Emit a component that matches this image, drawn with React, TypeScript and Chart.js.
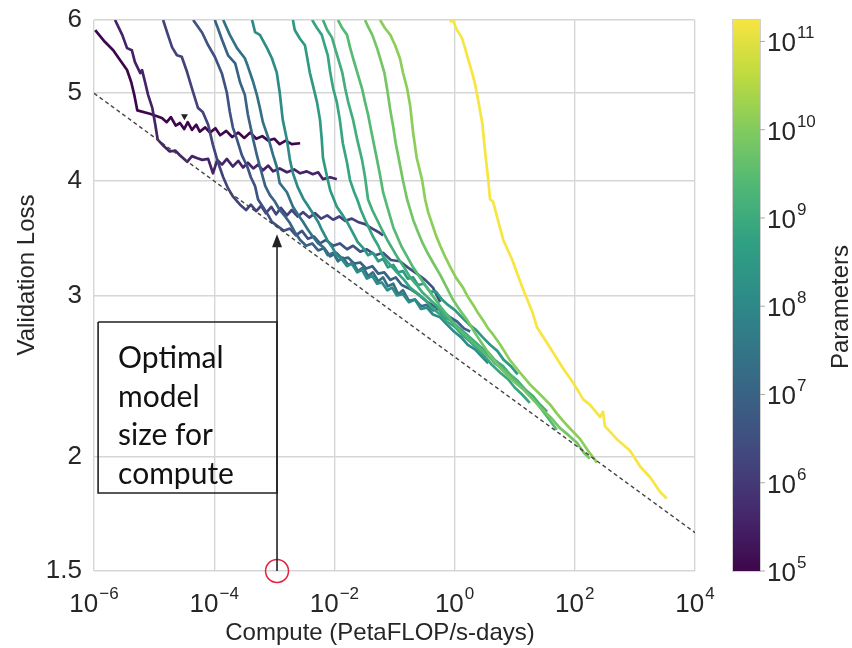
import React, { useEffect, useRef } from "react";
import { Chart, registerables } from "chart.js";

Chart.register(...registerables);

// ---------- axes ----------
const xTickValues = [1e-6, 1e-4, 1e-2, 1, 1e2, 1e4];
const xTickExponents = ["\u22126", "\u22124", "\u22122", "0", "2", "4"];
const yTickValues = [1.5, 2, 3, 4, 5, 6];
const colorbarTickValues = [1e5, 1e6, 1e7, 1e8, 1e9, 1e10, 1e11];
const colorbarTickExponents = ["5", "6", "7", "8", "9", "10", "11"];
const paramMin = 1e5;
const paramMax = 1.75e11;

// ---------- model sizes (parameters) for each curve A..N ----------
const modelParams = [1e5, 3.5e5, 1.6e6, 4e6, 1e7, 2.5e7, 1.25e8, 3.5e8, 7.6e8, 1.3e9, 2.7e9, 6.7e9, 1.3e10, 1.75e11];

// ---------- learning curves: log10(compute PF-days) and validation loss ----------
const logC_A = [-5.98, -5.82, -5.68, -5.57, -5.45, -5.38, -5.33, -5.28, -5.07, -4.87, -4.79, -4.72, -4.64, -4.57, -4.5, -4.44, -4.37, -4.3, -4.24, -4.15, -4.07, -3.98, -3.9, -3.8, -3.7, -3.6, -3.5, -3.4, -3.3, -3.2, -3.1, -3.0, -2.91, -2.81, -2.71, -2.57];
const loss_A = [5.85, 5.68, 5.56, 5.43, 5.29, 5.13, 4.97, 4.78, 4.74, 4.69, 4.64, 4.7, 4.6, 4.63, 4.56, 4.64, 4.55, 4.61, 4.53, 4.58, 4.52, 4.57, 4.49, 4.54, 4.47, 4.52, 4.46, 4.52, 4.45, 4.48, 4.43, 4.45, 4.39, 4.43, 4.39, 4.4];

const logC_B = [-5.65, -5.53, -5.45, -5.37, -5.32, -5.23, -5.2, -5.15, -5.1, -5.03, -4.98, -4.94, -4.84, -4.74, -4.65, -4.57, -4.45, -4.37, -4.29, -4.2, -4.1, -4.02, -3.95, -3.87, -3.79, -3.69, -3.6, -3.52, -3.44, -3.35, -3.27, -3.19, -3.1, -3.02, -2.91, -2.79, -2.67, -2.57, -2.46, -2.36, -2.27, -2.19, -2.07, -1.96];
const loss_B = [6.0, 5.78, 5.59, 5.56, 5.4, 5.25, 5.29, 5.13, 4.97, 4.81, 4.61, 4.44, 4.37, 4.31, 4.32, 4.27, 4.2, 4.26, 4.24, 4.22, 4.23, 4.08, 4.22, 4.17, 4.23, 4.15, 4.21, 4.14, 4.19, 4.13, 4.17, 4.11, 4.16, 4.1, 4.13, 4.09, 4.12, 4.08, 4.1, 4.07, 4.09, 4.02, 4.04, 4.02];

const logC_C = [-4.85, -4.77, -4.7, -4.62, -4.54, -4.45, -4.35, -4.27, -4.19, -4.1, -4.02, -3.94, -3.85, -3.77, -3.69, -3.57, -3.47, -3.39, -3.3, -3.22, -3.14, -3.05, -2.97, -2.89, -2.79, -2.71, -2.61, -2.52, -2.42, -2.32, -2.22, -2.12, -2.02, -1.92, -1.82, -1.71, -1.61, -1.49, -1.37, -1.27, -1.19];
const loss_C = [6.0, 5.78, 5.6, 5.49, 5.47, 5.26, 5.0, 4.81, 4.76, 4.61, 4.38, 4.2, 4.04, 3.93, 3.85, 3.77, 3.72, 3.77, 3.71, 3.76, 3.69, 3.75, 3.68, 3.74, 3.67, 3.72, 3.66, 3.7, 3.65, 3.69, 3.64, 3.67, 3.63, 3.66, 3.62, 3.64, 3.61, 3.59, 3.55, 3.52, 3.49];

const logC_D = [-4.35, -4.2, -4.1, -3.99, -3.87, -3.79, -3.74, -3.69, -3.62, -3.54, -3.45, -3.39, -3.32, -3.27, -3.19, -3.1, -3.04, -2.94, -2.84, -2.74, -2.64, -2.54, -2.44, -2.34, -2.24, -2.14, -2.02, -1.91, -1.79, -1.69, -1.57, -1.46, -1.32, -1.19, -1.06, -0.91, -0.78, -0.63, -0.49, -0.36, -0.24];
const loss_D = [6.0, 5.81, 5.63, 5.47, 5.24, 5.0, 4.76, 4.58, 4.44, 4.27, 4.15, 4.04, 3.95, 3.82, 3.75, 3.67, 3.61, 3.57, 3.53, 3.55, 3.49, 3.53, 3.46, 3.48, 3.42, 3.45, 3.4, 3.42, 3.37, 3.4, 3.35, 3.37, 3.32, 3.34, 3.28, 3.27, 3.22, 3.17, 3.12, 3.06, 2.95];

const logC_E = [-3.99, -3.94, -3.87, -3.77, -3.65, -3.57, -3.49, -3.44, -3.35, -3.29, -3.24, -3.15, -3.07, -2.99, -2.91, -2.82, -2.74, -2.66, -2.57, -2.47, -2.37, -2.27, -2.17, -2.07, -1.97, -1.87, -1.77, -1.67, -1.57, -1.47, -1.37, -1.27, -1.17, -1.07, -0.98, -0.88, -0.74, -0.61, -0.48, -0.34, -0.21, -0.08, 0.04, 0.16, 0.26];
const loss_E = [6.0, 5.88, 5.71, 5.49, 5.38, 5.13, 4.97, 4.73, 4.44, 4.27, 4.15, 3.95, 3.86, 3.8, 3.72, 3.66, 3.6, 3.52, 3.45, 3.4, 3.42, 3.36, 3.38, 3.31, 3.34, 3.29, 3.3, 3.25, 3.26, 3.21, 3.23, 3.17, 3.18, 3.12, 3.14, 3.08, 3.05, 3.01, 2.96, 2.92, 2.89, 2.84, 2.81, 2.76, 2.74];

const logC_F = [-3.85, -3.74, -3.62, -3.49, -3.44, -3.35, -3.29, -3.24, -3.19, -3.1, -3.02, -2.96, -2.91, -2.79, -2.69, -2.61, -2.52, -2.44, -2.36, -2.27, -2.19, -2.11, -2.02, -1.94, -1.86, -1.77, -1.69, -1.61, -1.52, -1.44, -1.36, -1.27, -1.19, -1.11, -1.02, -0.94, -0.86, -0.76, -0.66, -0.56, -0.46, -0.36, -0.26, -0.16, -0.06, 0.06, 0.17, 0.29, 0.42, 0.56, 0.67, 0.81];
const loss_F = [6.0, 5.78, 5.59, 5.45, 5.34, 5.13, 4.97, 4.81, 4.64, 4.46, 4.27, 4.15, 3.98, 3.89, 3.75, 3.68, 3.61, 3.54, 3.48, 3.42, 3.39, 3.32, 3.34, 3.27, 3.3, 3.24, 3.26, 3.19, 3.22, 3.15, 3.18, 3.11, 3.14, 3.07, 3.09, 3.01, 3.04, 2.96, 2.97, 2.92, 2.93, 2.89, 2.9, 2.84, 2.82, 2.77, 2.73, 2.68, 2.63, 2.58, 2.53, 2.49];

const logC_G = [-3.37, -3.32, -3.24, -3.12, -3.04, -2.96, -2.91, -2.86, -2.79, -2.74, -2.69, -2.61, -2.52, -2.44, -2.36, -2.27, -2.21, -2.12, -2.04, -1.96, -1.87, -1.79, -1.71, -1.62, -1.54, -1.46, -1.37, -1.29, -1.21, -1.12, -1.04, -0.96, -0.86, -0.76, -0.66, -0.56, -0.46, -0.36, -0.24, -0.13, -0.01, 0.11, 0.22, 0.34, 0.46, 0.56];
const loss_G = [6.0, 5.82, 5.78, 5.59, 5.45, 5.26, 5.0, 4.67, 4.44, 4.22, 4.08, 3.94, 3.83, 3.76, 3.69, 3.61, 3.54, 3.45, 3.39, 3.32, 3.28, 3.23, 3.25, 3.18, 3.2, 3.13, 3.15, 3.09, 3.1, 3.04, 3.06, 3.0, 3.01, 2.95, 2.97, 2.9, 2.91, 2.86, 2.84, 2.79, 2.74, 2.7, 2.65, 2.62, 2.57, 2.53];

const logC_H = [-2.69, -2.66, -2.57, -2.49, -2.46, -2.41, -2.36, -2.29, -2.24, -2.21, -2.19, -2.12, -2.07, -1.96, -1.86, -1.79, -1.69, -1.61, -1.52, -1.44, -1.36, -1.27, -1.19, -1.11, -1.02, -0.94, -0.86, -0.78, -0.69, -0.61, -0.51, -0.41, -0.31, -0.21, -0.11, 0.01, 0.12, 0.24, 0.36, 0.47, 0.59, 0.71, 0.82, 0.94, 1.05];
const loss_H = [6.0, 5.85, 5.72, 5.63, 5.49, 5.26, 5.1, 4.88, 4.67, 4.44, 4.24, 4.04, 3.91, 3.75, 3.67, 3.61, 3.51, 3.43, 3.38, 3.32, 3.34, 3.27, 3.29, 3.22, 3.24, 3.18, 3.19, 3.13, 3.14, 3.08, 3.09, 3.03, 3.03, 2.97, 2.93, 2.89, 2.84, 2.79, 2.75, 2.7, 2.65, 2.61, 2.55, 2.51, 2.46];

const logC_I = [-2.37, -2.29, -2.21, -2.16, -2.11, -2.07, -2.02, -1.96, -1.91, -1.86, -1.79, -1.74, -1.67, -1.62, -1.56, -1.49, -1.42, -1.36, -1.27, -1.19, -1.07, -0.96, -0.84, -0.74, -0.63, -0.49, -0.38, -0.24, -0.13, 0.01, 0.12, 0.26, 0.39, 0.51, 0.62, 0.76, 0.89, 1.0, 1.12, 1.25];
const loss_I = [6.0, 5.88, 5.78, 5.63, 5.49, 5.26, 5.05, 4.88, 4.67, 4.4, 4.19, 4.01, 3.89, 3.82, 3.72, 3.63, 3.55, 3.48, 3.4, 3.31, 3.24, 3.18, 3.12, 3.06, 3.02, 2.97, 2.91, 2.86, 2.81, 2.77, 2.72, 2.67, 2.62, 2.57, 2.52, 2.47, 2.43, 2.38, 2.34, 2.29];

const logC_J = [-2.19, -2.12, -2.04, -1.99, -1.94, -1.87, -1.82, -1.77, -1.69, -1.62, -1.54, -1.49, -1.44, -1.37, -1.29, -1.21, -1.12, -1.04, -0.96, -0.84, -0.74, -0.63, -0.53, -0.41, -0.29, -0.18, -0.08, 0.06, 0.17, 0.31, 0.42, 0.56, 0.67, 0.81, 0.92, 1.05, 1.17, 1.3, 1.42, 1.54];
const loss_J = [6.0, 5.85, 5.74, 5.59, 5.45, 5.26, 5.05, 4.88, 4.67, 4.44, 4.22, 4.04, 3.82, 3.72, 3.63, 3.54, 3.45, 3.38, 3.31, 3.22, 3.14, 3.08, 3.02, 2.97, 2.92, 2.86, 2.82, 2.77, 2.73, 2.68, 2.64, 2.6, 2.55, 2.51, 2.46, 2.42, 2.37, 2.33, 2.28, 2.24];

const logC_K = [-1.94, -1.87, -1.79, -1.74, -1.69, -1.62, -1.54, -1.49, -1.44, -1.39, -1.34, -1.29, -1.24, -1.19, -1.12, -1.02, -0.88, -0.69, -0.46, -0.24, 0.04, 0.26, 0.49, 0.71, 0.92, 1.12, 1.32, 1.52, 1.7];
const loss_K = [6.0, 5.88, 5.78, 5.6, 5.45, 5.26, 5.05, 4.88, 4.73, 4.55, 4.38, 4.22, 4.06, 3.89, 3.75, 3.56, 3.39, 3.22, 3.06, 2.92, 2.77, 2.68, 2.6, 2.52, 2.46, 2.38, 2.31, 2.22, 2.14];

const logC_L = [-1.49, -1.44, -1.37, -1.29, -1.24, -1.17, -1.12, -1.07, -1.02, -0.98, -0.91, -0.86, -0.79, -0.69, -0.61, -0.53, -0.44, -0.36, -0.24, -0.13, -0.03, 0.09, 0.21, 0.34, 0.47, 0.61, 0.76, 0.94, 1.14, 1.3, 1.47, 1.62, 1.75, 1.9, 2.04, 2.15, 2.25];
const loss_L = [6.0, 5.9, 5.78, 5.59, 5.45, 5.26, 5.03, 4.78, 4.58, 4.4, 4.17, 4.01, 3.82, 3.63, 3.52, 3.42, 3.33, 3.26, 3.16, 3.06, 2.97, 2.89, 2.82, 2.73, 2.65, 2.57, 2.5, 2.43, 2.37, 2.31, 2.25, 2.2, 2.15, 2.11, 2.07, 2.02, 1.99];

const logC_M = [-1.24, -1.16, -1.07, -0.99, -0.91, -0.86, -0.79, -0.74, -0.69, -0.63, -0.54, -0.49, -0.44, -0.38, -0.31, -0.24, -0.16, -0.08, 0.02, 0.14, 0.22, 0.31, 0.39, 0.47, 0.56, 0.64, 0.76, 0.92, 1.09, 1.25, 1.42, 1.59, 1.7, 1.8, 1.94, 2.09, 2.22, 2.37];
const loss_M = [6.0, 5.88, 5.78, 5.63, 5.45, 5.26, 5.05, 4.84, 4.52, 4.24, 4.01, 3.82, 3.7, 3.6, 3.49, 3.4, 3.31, 3.23, 3.14, 3.06, 2.99, 2.93, 2.87, 2.82, 2.76, 2.72, 2.65, 2.55, 2.47, 2.4, 2.34, 2.28, 2.23, 2.19, 2.14, 2.09, 2.03, 1.97];

const logC_N = [-0.08, -0.03, 0.04, 0.12, 0.17, 0.22, 0.29, 0.34, 0.39, 0.46, 0.51, 0.56, 0.59, 0.64, 0.71, 0.81, 0.96, 1.12, 1.3, 1.37, 1.59, 1.8, 1.97, 2.14, 2.25, 2.42, 2.47, 2.5, 2.7, 2.92, 3.09, 3.25, 3.42, 3.53];
const loss_N = [5.97, 6.0, 5.85, 5.74, 5.6, 5.45, 5.26, 5.11, 4.91, 4.63, 4.29, 4.01, 3.82, 3.8, 3.65, 3.45, 3.28, 3.07, 2.87, 2.77, 2.63, 2.5, 2.41, 2.31, 2.28, 2.21, 2.24, 2.16, 2.09, 2.03, 1.95, 1.9, 1.83, 1.8];

// ---------- compute-efficient frontier (dashed) ----------
const frontierCompute = [1e-6, 1e4];
const frontierLoss = [4.99, 1.652];

// ---------- annotation anchors (data units) ----------
const arrowCompute = 1.11e-3;
const arrowBaseLoss = 1.5;
const arrowTipLoss = 3.5;
const boxLeftCompute = 1.17e-6;
const boxTopLoss = 2.806;
const boxBottomLoss = 1.825;
const boxLines = ["Optimal", "model", "size for", "compute"];
const strayMarkerCompute = 3.2e-5;
const strayMarkerLoss = 4.71;

// ---------- colormap ----------
const VIRIDIS = ["#440154", "#482475", "#414487", "#355f8d", "#2a788e", "#21918c", "#22a884", "#44bf70", "#7ad151", "#bddf26", "#fde725"];
const MUTE = 0.16;

function hexRgb(h: string) {
  return [parseInt(h.slice(1, 3), 16), parseInt(h.slice(3, 5), 16), parseInt(h.slice(5, 7), 16)];
}
function muted(c: number[]) {
  const lum = 0.3 * c[0] + 0.59 * c[1] + 0.11 * c[2];
  const m = c.map((v) => Math.round(v * (1 - MUTE) + lum * MUTE));
  return `rgb(${m[0]},${m[1]},${m[2]})`;
}
function viridis(t: number) {
  const tt = Math.max(0, Math.min(1, t));
  const n = VIRIDIS.length - 1;
  const i = Math.min(n - 1, Math.floor(tt * n));
  const f = tt * n - i;
  const a = hexRgb(VIRIDIS[i]);
  const b = hexRgb(VIRIDIS[i + 1]);
  return muted(a.map((v, k) => v + (b[k] - v) * f));
}
function paramColor(p: number) {
  const t = (Math.log10(p) - Math.log10(paramMin)) / (Math.log10(paramMax) - Math.log10(paramMin));
  return viridis(t);
}

function toPoints(logC: number[], loss: number[]) {
  const n = Math.min(logC.length, loss.length);
  const pts = [] as { x: number; y: number }[];
  for (let i = 0; i < n; i++) pts.push({ x: Math.pow(10, logC[i]), y: loss[i] });
  return pts;
}

const FONT = "'Liberation Sans', Arial, sans-serif";
const TEXT = "#262626";

function drawPower(ctx: CanvasRenderingContext2D, x: number, baseline: number, exp: string, align: string) {
  ctx.font = `26px ${FONT}`;
  const wb = ctx.measureText("10").width;
  ctx.font = `17px ${FONT}`;
  const we = ctx.measureText(exp).width;
  const x0 = align === "center" ? x - (wb + we + 1) / 2 : x;
  ctx.textAlign = "left";
  ctx.textBaseline = "alphabetic";
  ctx.font = `26px ${FONT}`;
  ctx.fillText("10", x0, baseline);
  ctx.font = `17px ${FONT}`;
  ctx.fillText(exp, x0 + wb + 1, baseline - 13);
}

const overlayPlugin = {
  id: "overlay",
  afterDraw(chart: any) {
    const ctx: CanvasRenderingContext2D = chart.ctx;
    const xs = chart.scales.x;
    const ys = chart.scales.y;
    const cs = chart.scales.c;
    ctx.save();

    // arrow head
    const ax = xs.getPixelForValue(arrowCompute);
    const ay = ys.getPixelForValue(arrowTipLoss);
    ctx.fillStyle = "#222";
    ctx.beginPath();
    ctx.moveTo(ax, ay);
    ctx.lineTo(ax - 5, ay + 13);
    ctx.lineTo(ax + 5, ay + 13);
    ctx.closePath();
    ctx.fill();

    // box text
    const bx = xs.getPixelForValue(boxLeftCompute);
    const by = ys.getPixelForValue(boxTopLoss);
    ctx.fillStyle = "#111";
    ctx.font = "30px Lato, 'Open Sans', sans-serif";
    ctx.textAlign = "left";
    ctx.textBaseline = "alphabetic";
    boxLines.forEach((t, i) => ctx.fillText(t, bx + 20, by + 46 + i * 38.5));

    // x tick labels
    ctx.fillStyle = TEXT;
    xTickValues.forEach((v, i) => {
      drawPower(ctx, xs.getPixelForValue(v), 612, xTickExponents[i], "center");
    });

    // colorbar
    const barL = cs.left + 38;
    const barR = cs.left + 65;
    const top = cs.getPixelForValue(paramMax);
    const bot = cs.getPixelForValue(paramMin);
    const g = ctx.createLinearGradient(0, bot, 0, top);
    VIRIDIS.forEach((c, i) => g.addColorStop(i / (VIRIDIS.length - 1), muted(hexRgb(c))));
    ctx.fillStyle = g;
    ctx.fillRect(barL, top, barR - barL, bot - top);
    ctx.strokeStyle = "#d0d0d0";
    ctx.lineWidth = 1;
    ctx.strokeRect(barL - 0.5, top - 0.5, barR - barL + 1, bot - top + 1);
    ctx.strokeStyle = "#aaaaaa";
    colorbarTickValues.forEach((v, i) => {
      const py = cs.getPixelForValue(v);
      ctx.beginPath();
      ctx.moveTo(barR, py);
      ctx.lineTo(barR + 5, py);
      ctx.stroke();
      ctx.fillStyle = TEXT;
      drawPower(ctx, barR + 7, py + 10, colorbarTickExponents[i], "left");
    });

    // titles
    ctx.fillStyle = TEXT;
    ctx.font = `24px ${FONT}`;
    ctx.textAlign = "center";
    ctx.textBaseline = "alphabetic";
    ctx.fillText("Compute (PetaFLOP/s-days)", 380, 640);

    ctx.save();
    ctx.translate(27, 275);
    ctx.rotate(-Math.PI / 2);
    ctx.textBaseline = "middle";
    ctx.fillText("Validation Loss", 0, 0);
    ctx.restore();

    ctx.save();
    ctx.translate(841, 307);
    ctx.rotate(-Math.PI / 2);
    ctx.textBaseline = "middle";
    ctx.fillText("Parameters", 0, 0);
    ctx.restore();

    ctx.restore();
  },
};

export default function App() {
  const ref = useRef<HTMLCanvasElement>(null);

  useEffect(() => {
    const canvas = ref.current;
    if (!canvas) return;

    const curves = [
      [logC_N, loss_N, modelParams[13]],
      [logC_M, loss_M, modelParams[12]],
      [logC_L, loss_L, modelParams[11]],
      [logC_K, loss_K, modelParams[10]],
      [logC_J, loss_J, modelParams[9]],
      [logC_I, loss_I, modelParams[8]],
      [logC_H, loss_H, modelParams[7]],
      [logC_G, loss_G, modelParams[6]],
      [logC_F, loss_F, modelParams[5]],
      [logC_E, loss_E, modelParams[4]],
      [logC_D, loss_D, modelParams[3]],
      [logC_C, loss_C, modelParams[2]],
      [logC_B, loss_B, modelParams[1]],
      [logC_A, loss_A, modelParams[0]],
    ] as [number[], number[], number][];

    const curveSets = curves.map(([lc, ls, p]) => ({
      type: "line",
      data: toPoints(lc, ls),
      borderColor: paramColor(p),
      borderWidth: 2.7,
      pointRadius: 0,
      fill: false,
      tension: 0,
      borderJoinStyle: "round",
    }));

    const datasets: any[] = [
      {
        type: "line",
        data: frontierCompute.map((x, i) => ({ x, y: frontierLoss[i] })),
        borderColor: "#444444",
        borderWidth: 1.4,
        borderDash: [4, 3],
        pointRadius: 0,
        fill: false,
      },
      {
        type: "line",
        data: [
          { x: arrowCompute, y: arrowBaseLoss },
          { x: arrowCompute, y: arrowTipLoss * 0.985 },
        ],
        borderColor: "#222222",
        borderWidth: 1.6,
        pointRadius: 0,
        fill: false,
      },
      {
        type: "line",
        data: [
          { x: boxLeftCompute, y: boxTopLoss },
          { x: arrowCompute, y: boxTopLoss },
          { x: arrowCompute, y: boxBottomLoss },
          { x: boxLeftCompute, y: boxBottomLoss },
          { x: boxLeftCompute, y: boxTopLoss },
        ],
        borderColor: "#222222",
        borderWidth: 1.6,
        pointRadius: 0,
        fill: false,
        borderJoinStyle: "miter",
      },
      {
        type: "scatter",
        data: [{ x: arrowCompute, y: arrowBaseLoss }],
        pointRadius: 11.5,
        pointStyle: "circle",
        pointBorderColor: "#e3223f",
        pointBackgroundColor: "rgba(0,0,0,0)",
        pointBorderWidth: 1.5,
        clip: false,
      },
      {
        type: "scatter",
        data: [{ x: strayMarkerCompute, y: strayMarkerLoss }],
        pointRadius: 4,
        pointStyle: "triangle",
        rotation: 180,
        pointBackgroundColor: "#222222",
        pointBorderColor: "#222222",
        pointBorderWidth: 0,
      },
      ...curveSets,
    ];

    const gridStyle = { color: "#d6d6d6", lineWidth: 1.4, drawTicks: false };
    const zeroPad = (s: any) => {
      s.paddingTop = 0;
      s.paddingBottom = 0;
      s.paddingLeft = 0;
      s.paddingRight = 0;
    };

    const chart = new Chart(canvas, {
      type: "line",
      data: { datasets },
      options: {
        responsive: false,
        animation: false,
        devicePixelRatio: 1,
        events: [],
        layout: { padding: { top: 20, left: 0, right: 0, bottom: 0 } },
        plugins: { legend: { display: false }, tooltip: { enabled: false } },
        scales: {
          x: {
            type: "logarithmic",
            min: 1e-6,
            max: 1e4,
            afterBuildTicks: (s: any) => {
              s.ticks = xTickValues.map((value) => ({ value }));
            },
            ticks: { display: false },
            grid: gridStyle,
            border: { display: false },
            afterFit: (s: any) => {
              s.height = 77;
              zeroPad(s);
            },
          },
          y: {
            type: "logarithmic",
            min: 1.5,
            max: 6,
            afterBuildTicks: (s: any) => {
              s.ticks = yTickValues.map((value) => ({ value }));
            },
            ticks: {
              callback: (v: any) => String(v),
              font: { family: "'Liberation Sans', Arial, sans-serif", size: 26 },
              color: TEXT,
              padding: 12,
              autoSkip: false,
            },
            grid: gridStyle,
            border: { display: false },
            afterFit: (s: any) => {
              s.width = 94;
              zeroPad(s);
            },
          },
          c: {
            type: "logarithmic",
            position: "right",
            axis: "y",
            min: paramMin,
            max: paramMax,
            ticks: { display: false },
            grid: { display: false },
            border: { display: false },
            afterFit: (s: any) => {
              s.width = 157;
              zeroPad(s);
            },
          },
        },
      } as any,
      plugins: [overlayPlugin],
    } as any);

    return () => chart.destroy();
  }, []);

  return (
    <div style={{ position: "fixed", left: 0, top: 0, width: 852, height: 648, background: "#ffffff" }}>
      <canvas ref={ref} width={852} height={648} style={{ display: "block", width: 852, height: 648 }} />
    </div>
  );
}
